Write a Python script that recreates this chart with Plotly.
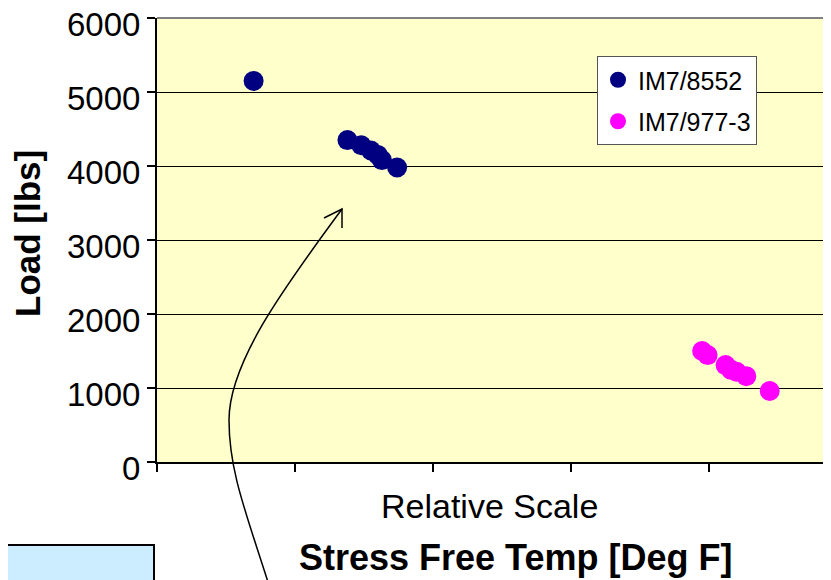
import plotly.graph_objects as go

# ---- data (relative x scale, load in lbs) ----
series_names = ["IM7/8552", "IM7/977-3"]
x_8552 = [0.70, 1.38, 1.48, 1.55, 1.60, 1.63, 1.74]
y_8552 = [5150, 4350, 4280, 4210, 4150, 4080, 3980]
x_977 = [3.95, 3.99, 4.12, 4.16, 4.20, 4.27, 4.44]
y_977 = [1500, 1445, 1310, 1245, 1220, 1160, 960]
y_ticks = [0, 1000, 2000, 3000, 4000, 5000, 6000]
x_ticks = [0, 1, 2, 3, 4]

# page body has an 8px margin; lay the figure out so that page pixels match
OFF = 8
W, H = 831 - OFF, 580 - OFF
L, R, T, B = 157 - OFF, 0, 18 - OFF, 580 - 462
PW, PH = W - L - R, H - T - B

def px(x):  # page pixel x -> paper
    return (x - OFF - L) / PW

def py(y):  # page pixel y -> paper
    return (462 - y) / PH

FONT = "Liberation Sans, Arial, sans-serif"

fig = go.Figure()
fig.add_trace(go.Scatter(x=x_8552, y=y_8552, mode="markers", name=series_names[0],
                         legendgroup="a",
                         marker=dict(color="#000080", size=20)))
fig.add_trace(go.Scatter(x=x_977, y=y_977, mode="markers", name=series_names[1],
                         legendgroup="b",
                         marker=dict(color="#FF00FF", size=20)))

shapes = []
# top frame line
shapes.append(dict(type="line", xref="paper", yref="paper", x0=0, x1=1.05, y0=1, y1=1,
                   line=dict(color="#808080", width=2), layer="above"))
# light-blue box at bottom left
shapes.append(dict(type="rect", xref="paper", yref="paper",
                   x0=px(-20), x1=px(154), y0=py(545), y1=py(620),
                   fillcolor="#CCECFF", line=dict(color="black", width=2)))
# curved arrow
path = (f"M {px(268)},{py(582)} C {px(245)},{py(510)} {px(229)},{py(470)} {px(229)},{py(420)} "
        f"C {px(229)},{py(360)} {px(290)},{py(280)} {px(342)},{py(209)}")
shapes.append(dict(type="path", xref="paper", yref="paper", path=path,
                   line=dict(color="black", width=1.5)))
head = f"M {px(324)},{py(218)} L {px(342)},{py(209)} L {px(342)},{py(228)}"
shapes.append(dict(type="path", xref="paper", yref="paper", path=head,
                   line=dict(color="black", width=1.5)))

annotations = [
    dict(text="<b>Load [lbs]</b>", xref="paper", yref="paper", x=px(27.5), y=py(233.5),
         textangle=-90, showarrow=False, xanchor="center", yanchor="middle",
         font=dict(family=FONT, size=35, color="black")),
    dict(text="Relative Scale", xref="paper", yref="paper", x=px(489), y=py(506.5),
         showarrow=False, xanchor="center", yanchor="middle",
         font=dict(family=FONT, size=34, color="black")),
    dict(text="<b>Stress Free Temp [Deg F]</b>", xref="paper", yref="paper", x=px(515.5), y=py(557),
         showarrow=False, xanchor="center", yanchor="middle",
         font=dict(family=FONT, size=36, color="black")),
]

fig.update_layout(
    width=W, height=H,
    margin=dict(l=L, r=R, t=T, b=B, pad=0),
    paper_bgcolor="white",
    plot_bgcolor="#FFFFCC",
    font=dict(family=FONT, color="black"),
    showlegend=True,
    legend=dict(x=px(597), y=py(56), xanchor="left", yanchor="top",
                bgcolor="white", bordercolor="#555555", borderwidth=1,
                font=dict(family=FONT, size=25, color="black"),
                tracegroupgap=6),
    shapes=shapes,
    annotations=annotations,
    hovermode=False,
)
fig.update_xaxes(range=[0, PW / 138.0], tickvals=x_ticks, showticklabels=False,
                 ticks="outside", ticklen=8, tickcolor="black", tickwidth=1.5,
                 automargin=False,
                 showgrid=False, zeroline=False, showline=True, linecolor="black", linewidth=2)
fig.update_yaxes(range=[0, 6000], tickvals=y_ticks, ticktext=[str(v) for v in y_ticks],
                 ticks="outside", ticklen=8, tickcolor="black", tickwidth=1.5,
                 tickfont=dict(family=FONT, size=33, color="black"),
                 ticklabeloverflow="allow", ticklabelshift=6, automargin=False,
                 showgrid=True, gridcolor="black", gridwidth=1,
                 zeroline=False, showline=True, linecolor="black", linewidth=2)

fig.write_html("out.html")
